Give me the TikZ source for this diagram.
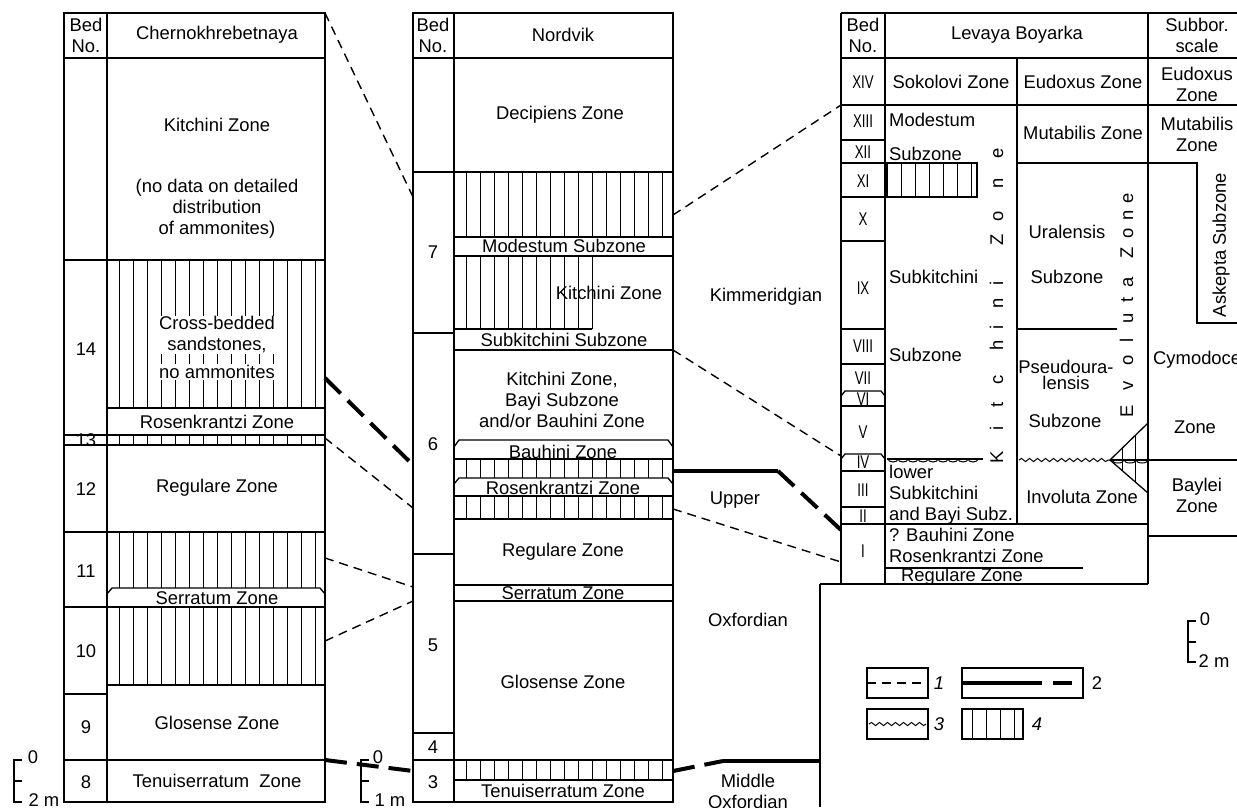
\documentclass[tikz,border=0pt]{standalone}
\usepackage{fontspec}
\setmainfont{Liberation Sans}
\usetikzlibrary{decorations.pathmorphing}
\newcommand{\bedno}[1]{\scalebox{0.72}[1]{#1}}

\begin{document}
\begin{tikzpicture}[x=1pt, y=-1pt,
    lbl/.style={font=\fontsize{18.4}{21}\selectfont, inner sep=0pt, align=center},
    frame/.style={line width=1.3pt},
    hatch/.style={line width=1pt},
    corr/.style={line width=1.4pt, dash pattern=on 9pt off 6pt},
    bound/.style={line width=4pt},
    bounddash/.style={line width=4pt, dash pattern=on 22pt off 10pt},
    wavy/.style={decorate, decoration={snake, amplitude=1.6pt, segment length=8pt}}]
  \clip (0,0) rectangle (1237,807);

  % Chernokhrebetnaya
  \draw[frame] (64,13) rectangle (325,802);
  \draw[frame] (107,13) -- (107,802);
  \foreach \yy in {58,260,408,435,445,532,607,685,760}
    \draw[frame] (107,\yy) -- (325,\yy);
  \foreach \yy in {58,260,435,445,532,607,694,760}
    \draw[frame] (64,\yy) -- (107,\yy);
  \foreach \hx in {119,133,...,315} {
    \draw[hatch] (\hx,260) -- (\hx,408);
    \draw[hatch] (\hx,435) -- (\hx,445);
    \draw[hatch] (\hx,532) -- (\hx,588);
    \draw[hatch] (\hx,607) -- (\hx,685);
  }
  \draw[frame] (107,594) -- (112,588) -- (320,588) -- (325,594);
  \node[lbl] (lbed) at (86,35) {Bed\\No.};
  \node[lbl] (lname) at (217,35) {Chernokhrebetnaya};
  \node[lbl] (lkit) at (217,125) {Kitchini Zone};
  \node[lbl] (lnodata) at (217,209) {(no data on detailed\\distribution\\of ammonites)};
  \node[lbl, fill=white, inner sep=1pt] (lcross) at (217,335) {Cross-bedded\\sandstones,};
  \node[lbl, fill=white, inner sep=1pt] (lnoam) at (217,372) {no ammonites};
  \node[lbl] (lros) at (217,422) {Rosenkrantzi Zone};
  \node[lbl] (lreg) at (217,488) {Regulare Zone};
  \node[lbl, fill=white, inner sep=0.5pt] (lser) at (217,598) {Serratum Zone};
  \node[lbl] (lglo) at (217,723) {Glosense Zone};
  \node[lbl] (lten) at (217,781) {Tenuiserratum\ \ Zone};
  \foreach \nn/\yy in {14/349,13/440,12/489,11/571,10/651,9/727,8/782}
    \node[lbl] (lb\nn) at (86,\yy) {\nn};

  % Nordvik
  \draw[frame] (413,13) rectangle (673,802);
  \draw[frame] (454,13) -- (454,802);
  \foreach \yy in {58,172,237,256,350,459,496,519,585,601,760,780}
    \draw[frame] (454,\yy) -- (673,\yy);
  \draw[frame] (454,329) -- (592,329);
  \foreach \yy in {58,172,333,554,733,760}
    \draw[frame] (413,\yy) -- (454,\yy);
  \foreach \hx in {466,480,...,662} {
    \draw[hatch] (\hx,172) -- (\hx,237);
    \draw[hatch] (\hx,459) -- (\hx,478);
    \draw[hatch] (\hx,496) -- (\hx,519);
    \draw[hatch] (\hx,760) -- (\hx,780);
  }
  \foreach \hx in {466,480,...,592}
    \draw[hatch] (\hx,256) -- (\hx,329);
  \draw[frame] (454,447) -- (459,440) -- (668,440) -- (673,447);
  \draw[frame] (454,484) -- (459,478) -- (668,478) -- (673,484);
  \node[lbl] (mbed) at (433,35) {Bed\\No.};
  \node[lbl] (mname) at (563,35) {Nordvik};
  \node[lbl] (mdec) at (560,115) {Decipiens Zone};
  \node[lbl, fill=white, inner sep=0.5pt] (mmod) at (564,246) {Modestum Subzone};
  \node[lbl] (mkit) at (609,293) {Kitchini Zone};
  \node[lbl] (msub) at (564,340) {Subkitchini Subzone};
  \node[lbl] (mbay) at (562,400) {Kitchini Zone,\\Bayi Subzone\\and/or Bauhini Zone};
  \node[lbl] (mbau) at (563,452) {Bauhini Zone};
  \node[lbl] (mros) at (563,488) {Rosenkrantzi Zone};
  \node[lbl] (mreg) at (563,552) {Regulare Zone};
  \node[lbl] (mser) at (563,593) {Serratum Zone};
  \node[lbl] (mglo) at (563,682) {Glosense Zone};
  \node[lbl] (mten) at (563,791) {Tenuiserratum Zone};
  \foreach \nn/\yy in {7/252,6/444,5/645,4/747,3/782}
    \node[lbl] (mb\nn) at (433,\yy) {\nn};

  % stages
  \node[lbl] (kimm) at (766,297) {Kimmeridgian};
  \node[lbl] (upper) at (735,500) {Upper};
  \node[lbl] (oxf) at (748,620) {Oxfordian};
  \node[lbl] (midox) at (748,791) {Middle\\Oxfordian};

  % Levaya Boyarka
  \draw[frame] (841,13) -- (1237,13);
  \draw[frame] (841,58) -- (1237,58);
  \draw[frame] (841,105) -- (1237,105);
  \draw[frame] (841,13) -- (841,584);
  \draw[frame] (885,13) -- (885,584);
  \draw[frame] (1148,13) -- (1148,584);
  \draw[frame] (1017,58) -- (1017,524);
  \draw[frame] (1017,163) -- (1148,163);
  \draw[frame] (1017,329) -- (1117,329);
  \draw[frame] (841,524) -- (1148,524);
  \draw[frame] (885,568) -- (1083,568);
  \draw[frame] (820,584) -- (1148,584);
  \draw[frame] (820,584) -- (820,807);
  \draw[frame] (1148,163) -- (1197,163) -- (1197,323) -- (1237,323);
  \draw[frame] (1110,460) -- (1237,460);
  \draw[frame] (1148,536) -- (1237,536);
  \foreach \yy in {140,163,197,241,329,364,406,471,507}
    \draw[frame] (841,\yy) -- (885,\yy);
  \draw[frame] (841,396) -- (845,391) -- (881,391) -- (885,396);
  \draw[frame] (841,459) -- (845,454) -- (881,454) -- (885,459);
  \draw[frame] (887,163) rectangle (977,197);
  \foreach \hx in {901,915,...,971}
    \draw[hatch] (\hx,163) -- (\hx,197);
  \draw[frame] (887,459) -- (983,459);
  \foreach \i in {0,...,8}
    \draw[hatch] (888+10*\i,459) arc (180:0:5 and 3);
  \draw[hatch, wavy] (1019,460) -- (1110,460);
  \draw[frame] (1148,423) -- (1110,460) -- (1148,493);
  \draw[hatch] (1122,448) -- (1122,470);
  \draw[hatch] (1135,436) -- (1135,482);
  \foreach \i in {0,1,2}
    \draw[hatch] (1112+12*\i,460) arc (180:0:6 and 3);
  \node[lbl] (rbed) at (863,35) {Bed\\No.};
  \node[lbl] (rname) at (1017,35) {Levaya Boyarka};
  \node[lbl] (rscale) at (1197,35) {Subbor.\\scale};
  \node[lbl] (rsok) at (951,82) {Sokolovi Zone};
  \node[lbl] (reud) at (1083,82) {Eudoxus Zone};
  \node[lbl] (seud) at (1197,84) {Eudoxus\\Zone};
  \node[lbl] (rmut) at (1083,133) {Mutabilis Zone};
  \node[lbl] (smut) at (1197,134) {Mutabilis\\Zone};
  \node[lbl, anchor=west] (rmod) at (889,120) {Modestum};
  \node[lbl, anchor=west] (rmodsz) at (889,154) {Subzone};
  \node[lbl, anchor=west] (rsubk) at (889,277) {Subkitchini};
  \node[lbl, anchor=west] (rsubksz) at (889,355) {Subzone};
  \node[lbl, anchor=west, align=left] (rlow) at (889,495) {lower\\Subkitchini\\and Bayi Subz.};
  \node[lbl, anchor=west, align=left] (rbau) at (889,545) {? Bauhini Zone\\Rosenkrantzi Zone};
  \node[lbl, anchor=west] (rreg) at (901,577) {Regulare Zone};
  \node[lbl] (rural) at (1067,232) {Uralensis};
  \node[lbl] (ruralsz) at (1067,277) {Subzone};
  \node[lbl, font=\fontsize{18.4}{16}\selectfont] (rpse) at (1066,375) {Pseudoura-\\lensis};
  \node[lbl] (rpsesz) at (1065,421) {Subzone};
  \node[lbl] (rinv) at (1082,497) {Involuta Zone};
  \node[lbl, rotate=90] (sask) at (1221,245) {Askepta Subzone};
  \node[lbl, anchor=west] (scym) at (1153,360) {Cymodoce};
  \node[lbl] (scymz) at (1195,427) {Zone};
  \node[lbl] (sbay) at (1197,495) {Baylei\\Zone};
  \foreach \ch/\yy [count=\i] in {K/457,i/428,t/405,c/380,h/345,i/327,n/303,i/283,Z/240,o/216,n/183,e/153}
    \node[lbl, rotate=90, anchor=base] (kz\i) at (1003,\yy) {\ch};
  \foreach \ch/\yy [count=\i] in {E/411,v/386,o/360,l/340,u/318,t/300,a/282,Z/253,o/233,n/215,e/198}
    \node[lbl, rotate=90, anchor=base] (ez\i) at (1133,\yy) {\ch};
  \foreach \nn/\yy in {XIV/82,XIII/121,XII/152,XI/181,X/219,IX/288,VIII/346,VII/378,VI/399,V/432,IV/462,III/490,II/516,I/551}
    \node[lbl] (rb\nn) at (863,\yy) {\bedno{\nn}};

  % correlation lines
  \coordinate (l1) at (325,13);   \coordinate (m1) at (413,197);
  \coordinate (l2) at (325,378);  \coordinate (m6) at (413,465);
  \coordinate (l3) at (325,438);  \coordinate (m7) at (413,508);
  \coordinate (l4) at (325,558);  \coordinate (m8) at (413,587);
  \coordinate (l5) at (325,641);  \coordinate (m9) at (413,601);
  \coordinate (l6) at (325,760);  \coordinate (m10) at (413,771);
  \coordinate (m2) at (673,215);  \coordinate (r1) at (841,105);
  \coordinate (m3) at (673,350);  \coordinate (r2) at (841,456);
  \coordinate (m4) at (673,471);  \coordinate (k1) at (778,471);
  \coordinate (r3) at (841,530);
  \coordinate (m5) at (673,509);  \coordinate (r4) at (841,562);
  \coordinate (m11) at (673,771); \coordinate (k2) at (723,761);
  \coordinate (k3) at (820,761);
  \draw[corr] (l1) -- (m1);
  \draw[corr] (l3) -- (m7);
  \draw[corr] (l4) -- (m8);
  \draw[corr] (l5) -- (m9);
  \draw[corr] (m2) -- (r1);
  \draw[corr] (m3) -- (r2);
  \draw[corr] (m5) -- (r4);
  \draw[bounddash] (l2) -- (m6);
  \draw[bounddash] (l6) -- (m10);
  \draw[bound] (m4) -- (k1);
  \draw[bounddash] (k1) -- (r3);
  \draw[bounddash] (m11) -- (k2);
  \draw[bound] (k2) -- (k3);

  % scales
  \draw[frame] (22,760) -- (14,760) -- (14,802) -- (22,802);
  \draw[frame] (14,781) -- (22,781);
  \node[lbl] (ls0) at (33,757) {0};
  \node[lbl] (ls2) at (44,800) {2 m};
  \draw[frame] (369,760) -- (361,760) -- (361,802) -- (369,802);
  \draw[frame] (361,781) -- (369,781);
  \node[lbl] (ms0) at (378,757) {0};
  \node[lbl] (ms1) at (390,800) {1 m};
  \draw[frame] (1196,621) -- (1188,621) -- (1188,662) -- (1196,662);
  \draw[frame] (1188,642) -- (1196,642);
  \node[lbl] (rs0) at (1205,619) {0};
  \node[lbl] (rs2) at (1214,661) {2 m};

  % legend
  \draw[frame] (867,668) rectangle (928,698);
  \draw[corr] (867,683) -- (921,683);
  \node[lbl] (leg1) at (939,683) {\itshape 1};
  \draw[frame] (962,668) rectangle (1083,698);
  \draw[bound] (962,683) -- (1042,683);
  \draw[bound] (1053,683) -- (1072,683);
  \node[lbl] (leg2) at (1097,683) {2};
  \draw[frame] (867,709) rectangle (928,739);
  \draw[hatch, wavy] (869,724) -- (926,724);
  \node[lbl] (leg3) at (939,724) {\itshape 3};
  \draw[frame] (962,709) rectangle (1023,739);
  \foreach \hx in {972,986,1000,1014}
    \draw[hatch] (\hx,709) -- (\hx,739);
  \node[lbl] (leg4) at (1037,724) {\itshape 4};
\end{tikzpicture}
\end{document}
